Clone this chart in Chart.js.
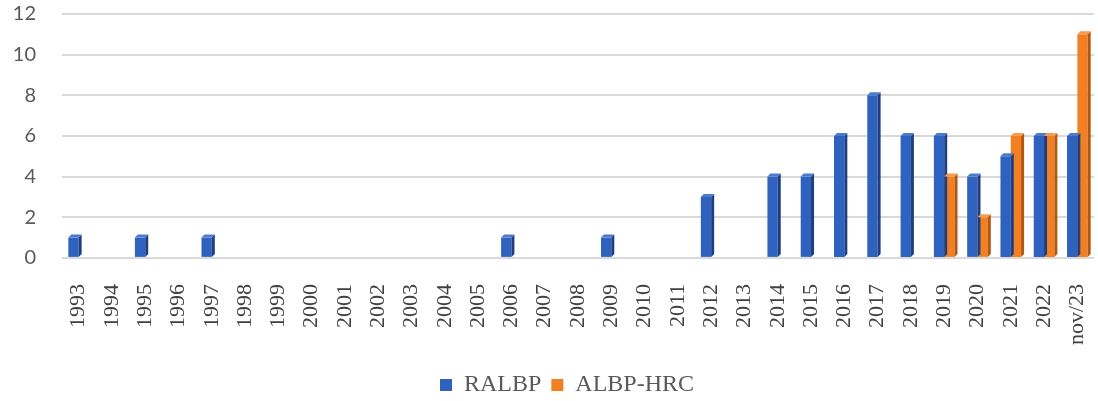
<!DOCTYPE html>
<html>
<head>
<meta charset="utf-8">
<script src="https://cdn.jsdelivr.net/npm/chart.js@4/dist/chart.umd.min.js"></script>
<style>
html,body{margin:0;padding:0;background:#fff;}
#wrap{width:1098px;height:401px;position:relative;}
</style>
</head>
<body>
<div id="wrap"><canvas id="c" width="1098" height="401"></canvas></div>
<script>
const categories = ["1993","1994","1995","1996","1997","1998","1999","2000","2001","2002","2003","2004","2005","2006","2007","2008","2009","2010","2011","2012","2013","2014","2015","2016","2017","2018","2019","2020","2021","2022","nov/23"];
const ralbp = [1,null,1,null,1,null,null,null,null,null,null,null,null,1,null,null,1,null,null,3,null,4,4,6,8,6,6,4,5,6,6];
const albpHrc = [null,null,null,null,null,null,null,null,null,null,null,null,null,null,null,null,null,null,null,null,null,null,null,null,null,null,4,2,6,6,11];
const yTicks = [0,2,4,6,8,10,12];

const side3d = {
  id: 'side3d',
  afterDatasetsDraw(chart) {
    const ctx = chart.ctx;
    const d = 3;
    const sideColors = ['#1d3f82', '#b3560f'];
    const topColors = ['#4a7bd0', '#f59a4e'];
    chart.data.datasets.forEach((ds, i) => {
      const meta = chart.getDatasetMeta(i);
      meta.data.forEach((el, j) => {
        if (ds.data[j] == null) return;
        const p = el.getProps(['x','y','base','width'], true);
        const r = p.x + p.width / 2;
        const l = p.x - p.width / 2;
        ctx.save();
        ctx.fillStyle = sideColors[i];
        ctx.beginPath();
        ctx.moveTo(r, p.y);
        ctx.lineTo(r + d, p.y - d);
        ctx.lineTo(r + d, p.base - d);
        ctx.lineTo(r, p.base);
        ctx.closePath();
        ctx.fill();
        ctx.fillStyle = topColors[i];
        ctx.beginPath();
        ctx.moveTo(l, p.y);
        ctx.lineTo(l + d, p.y - d);
        ctx.lineTo(r + d, p.y - d);
        ctx.lineTo(r, p.y);
        ctx.closePath();
        ctx.fill();
        ctx.restore();
      });
    });
  }
};

const legendShift = {
  id: 'legendShift',
  afterLayout(chart) {
    if (chart.legend) { chart.legend.left += 14; chart.legend.right += 14; }
  }
};

new Chart(document.getElementById('c'), {
  type: 'bar',
  data: {
    labels: categories,
    datasets: [
      { label: 'RALBP', data: ralbp, backgroundColor: '#2e62be', borderWidth: 0 },
      { label: 'ALBP-HRC', data: albpHrc, backgroundColor: '#f28022', borderWidth: 0 }
    ]
  },
  options: {
    responsive: false,
    animation: false,
    layout: { padding: { left: 12, right: 4, top: 14, bottom: -6 } },
    datasets: { bar: { barPercentage: 1.0, categoryPercentage: 0.62, skipNull: false } },
    plugins: {
      legend: {
        position: 'bottom',
        labels: {
          boxWidth: 12, boxHeight: 12, padding: 10,
          color: '#595959',
          font: { family: '"Liberation Serif", "Times New Roman", serif', size: 24 }
        }
      },
      tooltip: { enabled: false }
    },
    scales: {
      x: {
        grid: { display: false },
        border: { display: false },
        afterFit(axis) { axis.paddingLeft = 0; axis.paddingRight = 0; },
        ticks: {
          minRotation: 90, maxRotation: 90, autoSkip: false,
          color: '#404040', padding: 18,
          font: { family: '"Liberation Serif", "Times New Roman", serif', size: 22 }
        }
      },
      y: {
        min: 0, max: 12,
        afterBuildTicks(axis) { axis.ticks = yTicks.map(v => ({ value: v })); },
        afterFit(axis) { axis.paddingTop = 0; axis.paddingBottom = 0; axis.width = 50; },
        grid: { color: '#d9d9d9', lineWidth: 2, drawTicks: false },
        border: { display: false },
        ticks: {
          color: '#595959', padding: 26,
          font: { family: 'Lato, "Open Sans", sans-serif', size: 20 }
        }
      }
    }
  },
  plugins: [side3d, legendShift]
});
</script>
</body>
</html>
